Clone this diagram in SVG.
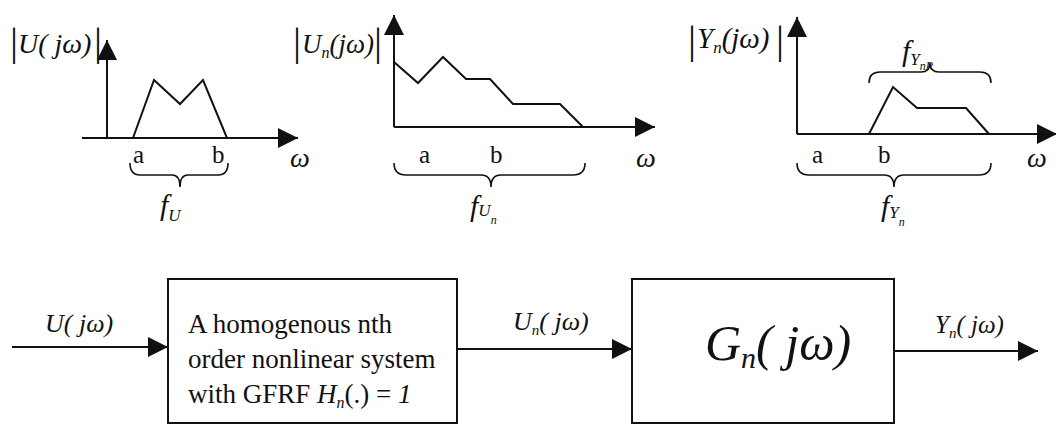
<svg xmlns="http://www.w3.org/2000/svg" width="1056" height="425" viewBox="0 0 1056 425">
<style>
.ln{stroke:#111;stroke-width:2;fill:none}
.ax{stroke:#111;stroke-width:2;fill:none;marker-end:url(#ah)}
.br{stroke:#111;stroke-width:1.6;fill:none}
.m{font-family:"Liberation Serif","Times New Roman",serif;font-style:italic;fill:#111}
.r{font-family:"Liberation Serif","Times New Roman",serif;fill:#111}
.bar{font-family:"Liberation Serif","Times New Roman",serif;font-style:normal;font-size:40px;fill:#111}
.box{fill:#fff;stroke:#111;stroke-width:2}
</style>
<defs>
<marker id="ah" markerUnits="userSpaceOnUse" markerWidth="20" markerHeight="20" refX="20" refY="10" orient="auto">
<path d="M0,0 L20,10 L0,20 z" fill="#111"/>
</marker>
</defs>
<rect width="1056" height="425" fill="#fff"/>

<!-- Plot 1 -->
<g id="plot1">
<line class="ax" x1="107" y1="138" x2="107" y2="40"/>
<line class="ax" x1="82" y1="138" x2="298" y2="138"/>
<polyline class="ln" points="133,138 154,80 180,104 203,80 227,138"/>
<text class="bar" x="10" y="55">|</text>
<text class="m" x="18" y="53" font-size="28">U( jω)</text>
<text class="bar" x="94" y="55">|</text>
<text class="r" x="133" y="163" font-size="25">a</text>
<text class="r" x="212" y="163" font-size="25">b</text>
<text class="m" x="290" y="167" font-size="28">ω</text>
<path class="br" d="M130,163 Q130,175 140,175 L172,175 Q180,175 180,187 Q180,175 188,175 L218,175 Q228,175 228,163"/>
<text class="m" x="160" y="215" font-size="30">f<tspan font-size="17" dy="6">U</tspan></text>
</g>

<!-- Plot 2 -->
<g id="plot2">
<line class="ax" x1="394" y1="127" x2="394" y2="15"/>
<line class="ax" x1="394" y1="127" x2="655" y2="127"/>
<polyline class="ln" points="394,62 418,83 443,57 466,79 490,79 513,104 560,104 583,127"/>
<text class="bar" x="293" y="55">|</text>
<text class="m" x="302" y="53" font-size="27">U<tspan font-size="16" dy="5">n</tspan><tspan dy="-5">(jω)</tspan></text>
<text class="bar" x="374" y="55">|</text>
<text class="r" x="419" y="163" font-size="25">a</text>
<text class="r" x="490" y="163" font-size="25">b</text>
<text class="m" x="636" y="167" font-size="28">ω</text>
<path class="br" d="M394,163 Q394,175 406,175 L481,175 Q491,175 491,187 Q491,175 501,175 L573,175 Q585,175 585,163"/>
<text class="m" x="470" y="216" font-size="30">f<tspan font-size="17" dy="0">U</tspan><tspan font-size="12" dy="8">n</tspan></text>
</g>

<!-- Plot 3 -->
<g id="plot3">
<line class="ax" x1="797" y1="134" x2="797" y2="17"/>
<line class="ax" x1="797" y1="134" x2="1057" y2="134"/>
<polyline class="ln" points="869,134 893,87 917,108 966,108 989,134"/>
<text class="bar" x="688" y="53">|</text>
<text class="m" x="697" y="48" font-size="29">Y<tspan font-size="17" dy="5">n</tspan><tspan dy="-5">(jω)</tspan></text>
<text class="bar" x="776" y="53">|</text>
<text class="r" x="812" y="163" font-size="25">a</text>
<text class="r" x="878" y="163" font-size="25">b</text>
<text class="m" x="1027" y="167" font-size="28">ω</text>
<path class="br" d="M797,163 Q797,175 809,175 L884,175 Q894,175 894,187 Q894,175 904,175 L979,175 Q991,175 991,163"/>
<text class="m" x="881" y="216" font-size="30">f<tspan font-size="17" dy="2">Y</tspan><tspan font-size="12" dy="8">n</tspan></text>
<path class="br" d="M869,83 Q869,72 880,72 L921,72 Q930,72 930,63 Q930,72 939,72 L980,72 Q991,72 991,83"/>
<text class="m" x="902" y="61" font-size="30">f<tspan font-size="17" dy="4">Y</tspan><tspan font-size="12" dy="5">nR</tspan></text>
</g>

<!-- Block diagram -->
<g id="connectors">
<line class="ax" x1="12" y1="347" x2="168" y2="347"/>
<line class="ax" x1="457" y1="349" x2="632" y2="349"/>
<line class="ax" x1="894" y1="351" x2="1038" y2="351"/>
</g>
<g id="label-in">
<text class="m" x="45" y="332" font-size="26">U( jω)</text>
</g>
<g id="label-mid">
<text class="m" x="513" y="330" font-size="26">U<tspan font-size="15" dy="5">n</tspan><tspan dy="-5">( jω)</tspan></text>
</g>
<g id="label-out">
<text class="m" x="935" y="333" font-size="25">Y<tspan font-size="15" dy="5">n</tspan><tspan dy="-5">( jω)</tspan></text>
</g>
<g id="block1">
<rect class="box" x="168" y="279" width="289" height="144"/>
<text class="r" x="188" y="333" font-size="27">A homogenous nth</text>
<text class="r" x="188" y="368" font-size="27">order nonlinear system</text>
<text class="r" x="188" y="403" font-size="27">with GFRF  <tspan class="m">H</tspan><tspan class="m" font-size="16" dy="5">n</tspan><tspan dy="-5">(.) = </tspan><tspan class="m">1</tspan></text>
</g>
<g id="block2">
<rect class="box" x="632" y="279" width="262" height="144"/>
<text class="m" x="705" y="360" font-size="50">G<tspan font-size="30" dy="8">n</tspan><tspan dy="-8">( jω)</tspan></text>
</g>
</svg>
